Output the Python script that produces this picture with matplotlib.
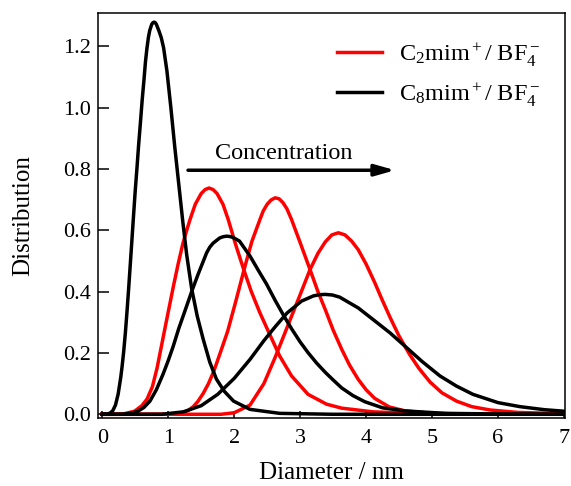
import matplotlib
matplotlib.use('Agg')
import matplotlib.pyplot as plt

plt.rcParams['font.family'] = ['Liberation Serif', 'DejaVu Serif']
plt.rcParams['mathtext.fontset'] = 'custom'
plt.rcParams['mathtext.rm'] = 'Liberation Serif'
plt.rcParams['mathtext.it'] = 'Liberation Serif:italic'
plt.rcParams['mathtext.default'] = 'regular'

# C8mim+/BF4- distributions (low -> high concentration)
c8_x1 = [0.0, 0.08, 0.12, 0.16, 0.20, 0.24, 0.28, 0.30, 0.325, 0.35, 0.375, 0.40, 0.425, 0.45,
         0.47, 0.50, 0.525, 0.55, 0.578, 0.605, 0.632, 0.655, 0.678, 0.70, 0.72, 0.75, 0.767,
         0.784, 0.80, 0.82, 0.86, 0.895, 0.93, 0.98, 1.04, 1.10, 1.16, 1.22, 1.28, 1.355, 1.44,
         1.53, 1.63, 1.73, 1.85, 1.99, 2.24, 2.69, 3.5, 7.0]
c8_y1 = [0.0, 0.001, 0.004, 0.012, 0.03, 0.065, 0.12, 0.155, 0.205, 0.265, 0.335, 0.41, 0.49,
         0.57, 0.635, 0.73, 0.80, 0.875, 0.95, 1.025, 1.09, 1.15, 1.195, 1.23, 1.252, 1.272,
         1.277, 1.279, 1.278, 1.272, 1.25, 1.228, 1.195, 1.12, 1.0, 0.87, 0.75, 0.63, 0.52,
         0.41, 0.32, 0.245, 0.17, 0.115, 0.075, 0.043, 0.016, 0.003, 0.0, 0.0]

c8_x2 = [0.0, 0.3, 0.45, 0.54, 0.63, 0.723, 0.82, 0.92, 1.0, 1.076, 1.16, 1.25, 1.355, 1.45,
         1.583, 1.63, 1.68, 1.78, 1.83, 1.886, 1.93, 1.98, 2.08, 2.24, 2.37, 2.49, 2.62, 2.75,
         2.87, 3.0, 3.12, 3.25, 3.38, 3.5, 3.63, 3.8, 3.98, 4.25, 4.59, 5.2, 6.0, 7.0]
c8_y2 = [0.0, 0.0, 0.004, 0.01, 0.022, 0.043, 0.08, 0.13, 0.175, 0.222, 0.28, 0.335, 0.40,
         0.455, 0.527, 0.545, 0.558, 0.575, 0.579, 0.581, 0.58, 0.577, 0.565, 0.516, 0.468,
         0.425, 0.372, 0.322, 0.279, 0.236, 0.201, 0.167, 0.137, 0.112, 0.086, 0.061, 0.041,
         0.021, 0.011, 0.003, 0.001, 0.0]

c8_x3 = [0.0, 0.9, 1.23, 1.5, 1.75, 2.0, 2.24, 2.45, 2.62, 2.8, 3.02, 3.2, 3.29, 3.38, 3.49,
         3.6, 3.88, 4.1, 4.36, 4.59, 4.85, 5.12, 5.37, 5.62, 6.0, 6.33, 6.7, 7.0]
c8_y3 = [0.0, 0.0, 0.008, 0.028, 0.065, 0.117, 0.179, 0.24, 0.285, 0.33, 0.369, 0.386, 0.39,
         0.391, 0.389, 0.382, 0.347, 0.31, 0.266, 0.222, 0.172, 0.125, 0.092, 0.065, 0.038,
         0.025, 0.015, 0.01]

# C2mim+/BF4- distributions
c2_x1 = [0.0, 0.3, 0.49, 0.6, 0.68, 0.76, 0.83, 0.89, 0.95, 1.02, 1.076, 1.15, 1.22, 1.28,
         1.33, 1.41, 1.5, 1.56, 1.618, 1.68, 1.74, 1.83, 1.91, 2.02, 2.14, 2.26, 2.39, 2.54,
         2.69, 2.87, 3.12, 3.4, 3.63, 4.1, 4.59, 5.5, 7.0]
c2_y1 = [0.0, 0.0, 0.01, 0.028, 0.05, 0.09, 0.15, 0.215, 0.28, 0.355, 0.415, 0.49, 0.555,
         0.60, 0.635, 0.685, 0.72, 0.733, 0.738, 0.733, 0.72, 0.685, 0.635, 0.555, 0.475,
         0.40, 0.331, 0.26, 0.19, 0.125, 0.065, 0.033, 0.02, 0.008, 0.004, 0.001, 0.0]

c2_x2 = [0.0, 1.0, 1.2, 1.3, 1.38, 1.45, 1.53, 1.61, 1.69, 1.78, 1.9, 2.02, 2.16, 2.27, 2.39,
         2.44, 2.5, 2.56, 2.62, 2.68, 2.74, 2.80, 2.87, 3.0, 3.15, 3.27, 3.38, 3.5, 3.63, 3.75,
         3.88, 4.0, 4.13, 4.35, 4.59, 5.0, 5.5, 7.0]
c2_y2 = [0.0, 0.0, 0.004, 0.012, 0.025, 0.042, 0.068, 0.1, 0.14, 0.195, 0.27, 0.365, 0.48,
         0.565, 0.635, 0.663, 0.685, 0.699, 0.706, 0.703, 0.69, 0.67, 0.635, 0.56, 0.472,
         0.40, 0.342, 0.275, 0.212, 0.16, 0.114, 0.08, 0.052, 0.024, 0.011, 0.003, 0.001, 0.0]

c2_x3 = [0.0, 1.8, 2.0, 2.24, 2.45, 2.62, 2.75, 2.87, 3.0, 3.15, 3.27, 3.38, 3.48, 3.58, 3.68,
         3.78, 3.88, 4.0, 4.13, 4.25, 4.37, 4.5, 4.66, 4.8, 4.97, 5.15, 5.37, 5.6, 5.88, 6.3,
         7.0]
c2_y3 = [0.0, 0.0, 0.005, 0.03, 0.1, 0.185, 0.255, 0.32, 0.39, 0.472, 0.525, 0.562, 0.585,
         0.592, 0.585, 0.565, 0.537, 0.49, 0.43, 0.37, 0.313, 0.255, 0.195, 0.15, 0.105, 0.07,
         0.043, 0.025, 0.014, 0.006, 0.002]

c2_curves = [(c2_x1, c2_y1), (c2_x2, c2_y2), (c2_x3, c2_y3)]
c8_curves = [(c8_x1, c8_y1), (c8_x2, c8_y2), (c8_x3, c8_y3)]

fig = plt.figure(figsize=(5.71, 4.86), dpi=100)
ax = fig.add_axes([0.1716, 0.140, 0.8184, 0.834])

lw = 2.5
for i, (x, y) in enumerate(c2_curves):
    ax.plot(x, y, color='#ff0000', lw=lw, solid_joinstyle='round',
            label=r'C$_2$mim$^+$/ BF$_4^-$' if i == 0 else None)
for i, (x, y) in enumerate(c8_curves):
    ax.plot(x, y, color='black', lw=lw, solid_joinstyle='round',
            label=r'C$_8$mim$^+$/ BF$_4^-$' if i == 0 else None)

ax.set_xlim(-0.065, 7.02)
ax.set_ylim(-0.012, 1.31)
ax.set_xticks(range(8))
ax.set_yticks([0.0, 0.2, 0.4, 0.6, 0.8, 1.0, 1.2])
ax.set_yticklabels(['0.0', '0.2', '0.4', '0.6', '0.8', '1.0', '1.2'])
ax.tick_params(axis='both', direction='in', labelsize=16, width=1.1)
ax.tick_params(axis='x', length=5, pad=8)
ax.tick_params(axis='y', length=8, pad=5)
for s in ax.spines.values():
    s.set_linewidth(1.1)

ax.set_xlabel('Diameter / nm', fontsize=18, labelpad=10)
ax.set_ylabel('Distribution', fontsize=18, labelpad=21)

# concentration arrow
ax.annotate('', xy=(4.44, 0.796), xytext=(1.30, 0.796),
            arrowprops=dict(arrowstyle='-|>,head_length=0.6,head_width=0.17',
                            lw=2.5, color='black', mutation_scale=20,
                            shrinkA=0, shrinkB=0))
ax.text(2.75, 0.833, 'Concentration', fontsize=17.5, ha='center', va='baseline')

ax.legend(loc='upper left', bbox_to_anchor=(0.512, 0.93), frameon=False,
          fontsize=17.5, handlelength=1.85, handletextpad=0.7, labelspacing=0.55,
          borderpad=0, borderaxespad=0)

fig.savefig('out.png', dpi=100)
